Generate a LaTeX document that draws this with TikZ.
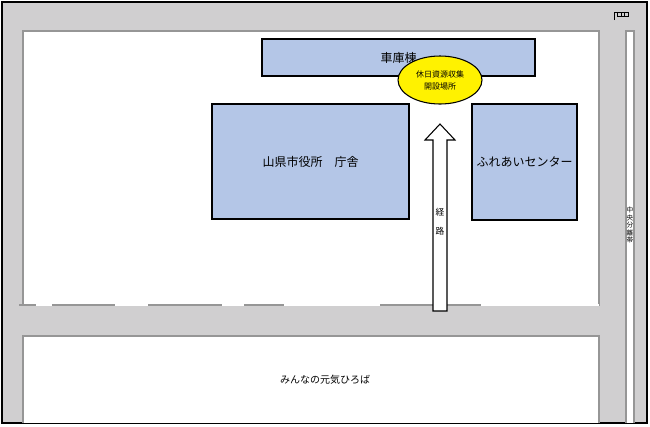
\documentclass[tikz,border=0pt]{standalone}
\usepackage{fontspec}
\setmainfont{Noto Sans CJK JP}
\usetikzlibrary{shapes.geometric}
\definecolor{road}{RGB}{208,207,208}
\definecolor{bld}{RGB}{180,198,231}
\definecolor{edge}{RGB}{150,150,150}
\begin{document}
\begin{tikzpicture}[x=0.75pt,y=-0.75pt,
  bldg/.style={draw=black,fill=bld,line width=0.8pt,font=\fontsize{9}{10}\selectfont},
  area/.style={fill=white,draw=edge,line width=0.8pt}]
\useasboundingbox (0,0) rectangle (650,426);
\fill[road,draw=black,line width=1pt] (2,2) rectangle (647,423);
\filldraw[area] (23,31) rectangle (599,305);
\draw[white,line width=1.2pt] (23,305) -- (599,305);
\foreach \a/\b in {19/36,52/115,148/222,244/284,380/481}
  \draw[edge,line width=0.8pt] (\a,305) -- (\b,305);
\filldraw[area] (23,423) -- (23,336) -- (599,336) -- (599,423);
\filldraw[area] (626,423) -- (626,31) -- (634,31) -- (634,423);
\draw[line width=0.6pt] (614,20) -- (614,12) -- (628,12) (617,12) -- (617,16) -- (628,16) -- (628,12) (621,12)--(621,16) (624,12)--(624,16);
\node[bldg,minimum width=273*0.75pt,minimum height=37*0.75pt] (garage) at (398.5,57.5) {車庫棟};
\node[bldg,minimum width=197*0.75pt,minimum height=115*0.75pt] (hall) at (310.5,161.5) {山県市役所　庁舎};
\node[bldg,minimum width=105*0.75pt,minimum height=116*0.75pt] (center) at (524.5,162) {ふれあいセンター};
\node[ellipse,draw=black,fill=yellow,line width=0.8pt,minimum width=84*0.75pt,minimum height=48*0.75pt,inner sep=0pt,align=center,font=\fontsize{6}{9}\selectfont] (site) at (440,80) {休日資源収集\\開設場所};
\coordinate (tail) at (440,311);
\draw[fill=white,line width=0.8pt] (433,311) -- (433,140) -- (425,140) -- (440,124) -- (455,140) -- (447,140) -- (447,311) -- cycle;
\node[font=\fontsize{6.5}{14}\selectfont,align=center] (route) at (440,222) {経\\路};
\node[font=\fontsize{5}{5.6}\selectfont,align=center,inner sep=0pt,fill=white] (median) at (630,225) {中\\央\\分\\離\\帯};
\node[font=\fontsize{7.5}{9}\selectfont] (park) at (325,380) {みんなの元気ひろば};
\end{tikzpicture}
\end{document}
